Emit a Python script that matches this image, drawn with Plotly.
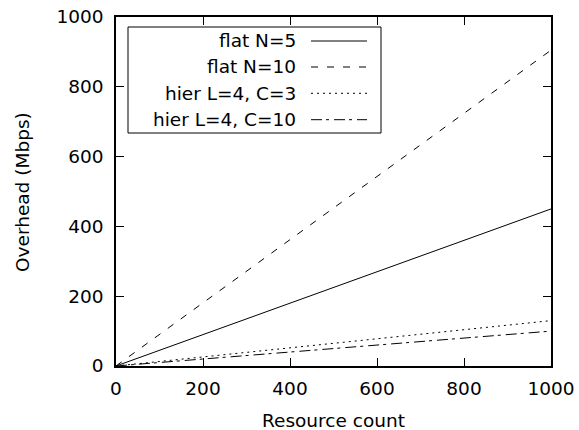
import plotly.graph_objects as go

# Overhead (Mbps) versus number of resources for each configuration
resource_count = [0, 200, 400, 600, 800, 1000]
flat_n5 = [0, 90, 180, 270, 360, 450]
flat_n10 = [0, 181, 362, 543, 724, 905]
hier_l4_c3 = [0, 26, 52, 78, 104, 130]
hier_l4_c10 = [0, 20, 40, 60, 80, 100]

series_names = ["flat N=5", "flat N=10", "hier L=4, C=3", "hier L=4, C=10"]
series_values = [flat_n5, flat_n10, hier_l4_c3, hier_l4_c10]
series_dash = ["solid", "7px,9px", "2px,4px", "11px,4px,3px,5px"]

x_ticks = [0, 200, 400, 600, 800, 1000]
y_ticks = [0, 200, 400, 600, 800, 1000]

W, H = 579, 430
L, R, T, B = 116, 28, 17, 64
FONT = "DejaVu Sans"
FS = 18.5

fig = go.Figure()
for name, vals, dash in zip(series_names, series_values, series_dash):
    fig.add_trace(go.Scatter(
        x=resource_count, y=vals, name=name, mode="lines",
        line=dict(color="black", width=1, dash=dash),
        showlegend=False,
    ))

# helpers: pixel position -> paper fraction
pw = W - L - R
ph = H - T - B


def px_x(p):
    return (p - L) / pw


def px_y(p):
    return 1 - (p - T) / ph


# gnuplot-style key: right-aligned labels with the line sample to their right
row_y = [41, 67, 93.3, 119.7]
for name, dash, y in zip(series_names, series_dash, row_y):
    fig.add_annotation(
        x=px_x(298), y=px_y(y), xref="paper", yref="paper",
        text=name, showarrow=False, xanchor="right", yanchor="middle",
        font=dict(family=FONT, size=FS, color="black"),
    )
    fig.add_shape(
        type="line", xref="paper", yref="paper",
        x0=px_x(311), x1=px_x(367), y0=px_y(y), y1=px_y(y),
        line=dict(color="black", width=1, dash=dash),
    )
fig.add_shape(
    type="rect", xref="paper", yref="paper",
    x0=px_x(128), x1=px_x(381), y0=px_y(27), y1=px_y(133),
    line=dict(color="black", width=1), fillcolor="rgba(0,0,0,0)",
)

# axis titles
fig.add_annotation(
    x=px_x(333.5), y=px_y(421), xref="paper", yref="paper",
    text="Resource count", showarrow=False, xanchor="center", yanchor="middle",
    font=dict(family=FONT, size=FS, color="black"),
)
fig.add_annotation(
    x=px_x(22), y=px_y(192), xref="paper", yref="paper",
    text="Overhead (Mbps)", showarrow=False, textangle=-90,
    xanchor="center", yanchor="middle",
    font=dict(family=FONT, size=FS, color="black"),
)

axis_common = dict(
    showline=True, linecolor="black", linewidth=1.5, mirror="allticks",
    ticks="inside", ticklen=8, tickwidth=1, tickcolor="black",
    showgrid=False, zeroline=False, automargin=False,
    tickfont=dict(family=FONT, size=FS, color="black"),
)

fig.update_layout(
    width=W, height=H,
    margin=dict(l=L, r=R, t=T, b=B, autoexpand=False),
    paper_bgcolor="white", plot_bgcolor="white",
    xaxis=dict(range=[0, 1000], tickvals=x_ticks, ticklabelstandoff=5, **axis_common),
    yaxis=dict(range=[0, 1000], tickvals=y_ticks, ticklabelstandoff=7, **axis_common),
)

fig.write_html("out.html")
